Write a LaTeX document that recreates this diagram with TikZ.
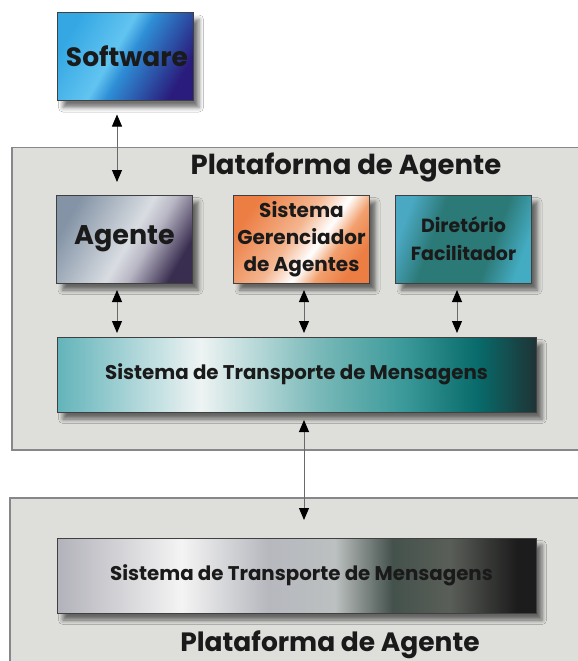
\documentclass[tikz,border=0pt]{standalone}
\usepackage{fontspec}
\setmainfont{Poppins}
\usetikzlibrary{arrows.meta,shadows.blur}
\definecolor{platfill}{HTML}{DEDFDB}
\definecolor{platline}{HTML}{86878A}
\definecolor{txt}{HTML}{1A1A1A}
\definecolor{arrline}{HTML}{6A6A6A}
\definecolor{sw1}{HTML}{35A8E4}
\definecolor{sw2}{HTML}{62C4F0}
\definecolor{sw3}{HTML}{2E8ED6}
\definecolor{sw4}{HTML}{2A1C7C}
\definecolor{ag1}{HTML}{8494A6}
\definecolor{ag2}{HTML}{D9DDE2}
\definecolor{ag3}{HTML}{B8B6C4}
\definecolor{ag4}{HTML}{3A2E50}
\definecolor{sg1}{HTML}{EC7E44}
\definecolor{sg2}{HTML}{F4B690}
\definecolor{sg3}{HTML}{F2A06E}
\definecolor{df1}{HTML}{4AA8C2}
\definecolor{df2}{HTML}{2C7A78}
\definecolor{df3}{HTML}{44ACC2}
\definecolor{ma1}{HTML}{62B4BA}
\definecolor{ma2}{HTML}{EEF3F3}
\definecolor{ma3}{HTML}{7CBABA}
\definecolor{ma4}{HTML}{3C9A9A}
\definecolor{ma5}{HTML}{086A6A}
\definecolor{ma6}{HTML}{1F3335}
\definecolor{mb1}{HTML}{B2B2BA}
\definecolor{mb2}{HTML}{F4F4F4}
\definecolor{mb3}{HTML}{B6B8BE}
\definecolor{mb4}{HTML}{BCC0C0}
\definecolor{mb5}{HTML}{44524C}
\definecolor{mb6}{HTML}{5A5E58}
\definecolor{mb7}{HTML}{1C1C1C}
\pgfdeclarehorizontalshading{swsh}{100bp}{color(0bp)=(sw1); color(25bp)=(sw1); color(45bp)=(sw2); color(52bp)=(sw3); color(75bp)=(sw4); color(100bp)=(sw4)}
\pgfdeclarehorizontalshading{agsh}{100bp}{color(0bp)=(ag1); color(25bp)=(ag1); color(52bp)=(ag2); color(60bp)=(ag3); color(75bp)=(ag4); color(100bp)=(ag4)}
\pgfdeclarehorizontalshading{sgsh}{100bp}{color(0bp)=(sg1); color(25bp)=(sg1); color(46bp)=(sg2); color(57bp)=(white); color(65bp)=(sg3); color(75bp)=(sg1); color(100bp)=(sg1)}
\pgfdeclarehorizontalshading{dfsh}{100bp}{color(0bp)=(df1); color(25bp)=(df1); color(38bp)=(df2); color(62bp)=(df2); color(75bp)=(df3); color(100bp)=(df3)}
\pgfdeclarehorizontalshading{mtsa}{100bp}{color(0bp)=(ma1); color(25bp)=(ma1); color(40bp)=(ma2); color(52bp)=(ma3); color(61bp)=(ma4); color(69bp)=(ma5); color(75bp)=(ma6); color(100bp)=(ma6)}
\pgfdeclarehorizontalshading{mtsb}{100bp}{color(0bp)=(mb1); color(25bp)=(mb1); color(38bp)=(mb2); color(47bp)=(mb3); color(54bp)=(mb4); color(60bp)=(mb5); color(66bp)=(mb6); color(73bp)=(mb7); color(100bp)=(mb7)}
\tikzset{
  plat/.style={draw=platline, line width=1.4pt, fill=platfill},
  box/.style={draw=black!75, line width=0.7pt, rectangle, inner sep=0pt, outer sep=0pt,
    text=txt, align=center, font=\bfseries,
    blur shadow={shadow xshift=6pt, shadow yshift=-7pt, shadow blur radius=4.5pt, shadow opacity=55}},
  smallbox/.style={box, minimum width=136pt, minimum height=88pt},
  longbox/.style={box, minimum width=479pt, minimum height=75pt},
  ttl/.style={text=txt, inner sep=0pt},
  link/.style={draw=arrline, line width=0.9pt, {Triangle[length=12pt,width=10pt,color=black]}-{Triangle[length=12pt,width=10pt,color=black]}}
}
\begin{document}
\begin{tikzpicture}[x=1pt,y=-1pt]
\useasboundingbox (0,0) rectangle (578,661);
\fill[white] (0,0) rectangle (578,661);
% platforms
\path[plat] (12,147.5) rectangle (600,450);
\path[plat] (10,498) rectangle (600,680);
\node[ttl, font=\bfseries\fontsize{27.5}{30}\selectfont] (t1) at (346,168) {Plataforma de Agente};
\node[ttl, font=\bfseries\fontsize{26.5}{30}\selectfont] (t2) at (330,645) {Plataforma de Agente};
% boxes
\node[smallbox, shading=swsh, shading angle=-30, font=\bfseries\fontsize{26.5}{30}\selectfont] (sw) at (125,56.5) {\hspace*{4pt}Software};
\node[smallbox, shading=agsh, shading angle=-30, font=\bfseries\fontsize{27}{30}\selectfont] (ag) at (124.5,239) {Agente};
\node[smallbox, shading=sgsh, shading angle=-35, font=\bfseries\fontsize{20}{27}\selectfont] (sg) at (301.5,239) {Sistema\\Gerenciador\\de Agentes};
\node[smallbox, shading=dfsh, shading angle=-20, font=\bfseries\fontsize{19}{28}\selectfont] (df) at (463.5,239) {Diretório\\Facilitador};
\node[longbox, shading=mtsa, font=\bfseries\fontsize{19.8}{22}\selectfont] (m1) at (296.5,374.5) {Sistema de Transporte de Mensagens};
\node[longbox, shading=mtsb, font=\bfseries\fontsize{19.8}{22}\selectfont] (m2) at (296.5,575.5) {\hspace*{10pt}Sistema de Transporte de Mensagens};
% connectors
\coordinate (x1) at (117,0);
\coordinate (x2) at (304,0);
\coordinate (x3) at (457,0);
\coordinate (x4) at (304,0);
\draw[link, shorten <=14pt, shorten >=13pt] (sw.south -| x1) -- (ag.north -| x1);
\draw[link, shorten <=7pt, shorten >=4pt] (ag.south -| x1) -- (m1.north -| x1);
\draw[link, shorten <=7pt, shorten >=4pt] (sg.south -| x2) -- (m1.north -| x2);
\draw[link, shorten <=7pt, shorten >=4pt] (df.south -| x3) -- (m1.north -| x3);
\draw[link, shorten <=8pt, shorten >=18pt] (m1.south -| x4) -- (m2.north -| x4);
\end{tikzpicture}
\end{document}
